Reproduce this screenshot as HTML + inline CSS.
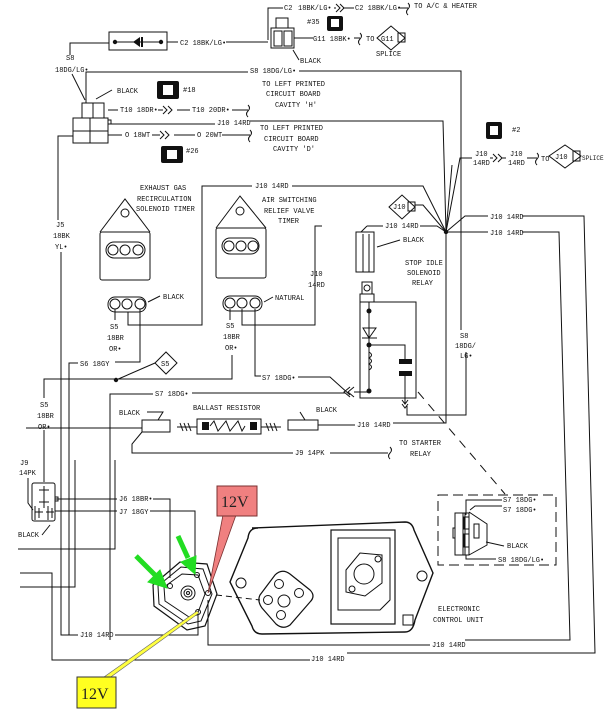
<!DOCTYPE html>
<html><head><meta charset="utf-8"><style>
html,body{margin:0;padding:0;background:#fff;}
svg{display:block;position:absolute;left:0;top:0;}
text{font-family:"Liberation Mono",monospace;font-size:7px;fill:#111;}
</style></head><body>
<svg width="604" height="711" viewBox="0 0 604 711" xmlns="http://www.w3.org/2000/svg">
<g stroke="#111" stroke-width="1" fill="none">
<rect x="109" y="32" width="58" height="18"/>
<path d="M70 55 V43 H109"/>
<line x1="114" y1="42" x2="162" y2="42"/>
<line x1="167" y1="42" x2="178" y2="42"/><line x1="226" y1="42" x2="268" y2="42"/>
<rect x="271" y="28" width="23" height="20"/><rect x="276" y="18" width="12" height="10"/>
<rect x="274" y="31" width="8" height="15"/><rect x="284" y="31" width="8" height="15"/>
<path d="M268 40 V8 H283"/><line x1="334" y1="8" x2="336" y2="8"/><line x1="343" y1="8" x2="354" y2="8"/><line x1="398" y1="8" x2="408" y2="8"/>
<path d="M336 4 l4 4 l-4 4 M340 4 l4 4 l-4 4"/>
<path d="M408 3 q3 3 0 6 q-3 3 0 6"/>
<line x1="294" y1="38" x2="313" y2="38"/><line x1="354" y1="38" x2="360" y2="38"/>
<path d="M360 33 q3 3 0 6 q-3 3 0 6"/>
<path d="M377 38 L391 26 L405 38 L391 50 Z"/><rect x="398" y="33" width="7" height="9"/>
<path d="M293 50 L299 60"/>
<path d="M86 103 V72 H248"/><path d="M299 71 H461 V330"/><path d="M466 352 V415 H407 V406"/>
<path d="M402 400 L405 404 L408 400 M402 404 L405 408 L408 404"/>
<line x1="72" y1="74" x2="85" y2="100"/>
<rect x="73" y="118" width="35" height="25"/><rect x="82" y="103" width="22" height="15"/>
<line x1="93" y1="103" x2="93" y2="118"/>
<line x1="90" y1="118" x2="90" y2="143"/><line x1="73" y1="131" x2="108" y2="131"/>
<rect x="108" y="120" width="3" height="4"/>
<line x1="96" y1="99" x2="112" y2="90"/>
<line x1="108" y1="110" x2="118" y2="110"/><line x1="158" y1="110" x2="163" y2="110"/><line x1="177" y1="110" x2="190" y2="110"/><line x1="232" y1="110" x2="248" y2="110"/>
<path d="M163 106 l4 4 l-4 4 M168 106 l4 4 l-4 4 M248 105 q3 3 0 6 q-3 3 0 6"/>
<line x1="108" y1="135" x2="122" y2="135"/><line x1="152" y1="135" x2="160" y2="135"/><line x1="174" y1="135" x2="195" y2="135"/><line x1="222" y1="135" x2="250" y2="135"/>
<path d="M160 131 l4 4 l-4 4 M165 131 l4 4 l-4 4 M250 130 q3 3 0 6 q-3 3 0 6"/>
<path d="M111 124 H215"/><path d="M250 121 H443 L446 232"/>
<path d="M73 136 H58 V220"/><path d="M61 252 V635 H78"/>
<path d="M100 232 L125 199 L150 232"/><rect x="100" y="232" width="50" height="48" rx="2"/>
<rect x="106" y="242" width="39" height="16" rx="8"/>
<circle cx="113" cy="250" r="5"/><circle cx="125" cy="250" r="5"/><circle cx="138" cy="250" r="5"/>
<circle cx="125" cy="213" r="4"/>
<path d="M216 228 L240 196 L266 228"/><rect x="216" y="228" width="50" height="50" rx="2"/>
<rect x="222" y="238" width="37" height="16" rx="8"/>
<circle cx="229" cy="246" r="5"/><circle cx="241" cy="246" r="5"/><circle cx="253" cy="246" r="5"/>
<circle cx="240" cy="211" r="4"/>
<path d="M128 312 V325 H202 V186 H252"/><path d="M292 186 H423 L446 232"/>
<rect x="108" y="297" width="38" height="15" rx="7"/>
<circle cx="115" cy="304" r="5"/><circle cx="127" cy="304" r="5"/><circle cx="140" cy="304" r="5"/>
<line x1="148" y1="302" x2="160" y2="296"/>
<path d="M115 309 V320"/><path d="M140 309 V362 H115"/>
<rect x="223" y="296" width="39" height="15" rx="7"/>
<circle cx="230" cy="303" r="5"/><circle cx="242" cy="303" r="5"/><circle cx="255" cy="303" r="5"/>
<line x1="264" y1="302" x2="273" y2="297"/>
<path d="M230 309 V320"/><path d="M242 309 V325 H315 V226 H322"/>
<path d="M255 309 V376 H261"/><path d="M298 377 H330 L350 395"/>
<path d="M232 355 V379 H44 V398"/><path d="M44 430 V482"/>
<path d="M116 380 L155 363"/><path d="M155 363 L166 352 L177 363 L166 374 Z"/>
<path d="M78 363 H69 V635"/>
<path d="M110 640 V394 H153"/><path d="M192 393 H345"/>
<path d="M350 387 L344 392 L350 397 M354 387 L348 392 L354 397"/>
<path d="M354 392 H369"/>
<line x1="367" y1="226" x2="383" y2="226"/><path d="M420 226 H437 L446 232"/>
<path d="M367 226 L361 232"/>
<path d="M415 205 H423 L446 232"/>
<path d="M389 207 L402 195 L415 207 L402 219 Z"/><rect x="408" y="202" width="7" height="9"/>
<rect x="356" y="232" width="18" height="40"/><line x1="363" y1="234" x2="363" y2="272"/><line x1="369" y1="234" x2="369" y2="272"/>
<line x1="377" y1="247" x2="400" y2="240"/>
<rect x="362" y="282" width="10" height="12"/><circle cx="367" cy="288" r="3"/>
<rect x="360" y="294" width="14" height="8"/>
<rect x="360" y="302" width="56" height="96"/>
<line x1="369" y1="302" x2="369" y2="391"/>
<path d="M363 328 H376 L369 338 Z"/><line x1="362" y1="338" x2="377" y2="338"/>
<path d="M369 345 H405 V360"/><path d="M405 376 V404"/>
<path d="M369 352 q5 3 0 6 q5 3 0 6 q5 3 0 6"/>
<path d="M446 232 L460 158 H472"/><path d="M446 232 L452 165"/><path d="M446 232 L465 216 H488 M522 216 H584 L595 653 H347"/>
<path d="M446 232 H488 M522 232 H559 L570 640 H465"/><path d="M446 232 V423 H393"/>
<line x1="490" y1="158" x2="493" y2="158"/><path d="M493 154 l4 4 l-4 4 M498 154 l4 4 l-4 4"/><line x1="502" y1="158" x2="506" y2="158"/>
<line x1="527" y1="158" x2="537" y2="158"/><path d="M537 153 q3 3 0 6 q-3 3 0 6"/>
<path d="M549 156 L565 145 L581 156 L565 168 Z"/><rect x="573" y="151" width="7" height="10"/>
<rect x="142" y="420" width="28" height="12"/><path d="M147 412 H163 L158 420"/>
<rect x="197" y="419" width="64" height="15"/>
<path d="M210 426 l4 -5 l4 10 l4 -5 l4 -5 l4 10 l4 -5 l4 -5 l4 10 l3 -5"/>
<path d="M177 427 H197 M261 427 H281"/>
<path d="M180 423 l3 8 M184 423 l3 8 M188 423 l3 8 M266 423 l3 8 M270 423 l3 8 M274 423 l3 8"/>
<rect x="288" y="420" width="30" height="10"/><line x1="300" y1="412" x2="305" y2="420"/>
<path d="M26 428 H142"/><path d="M318 425 H355"/>
<path d="M142 432 L132 444 V453 H293"/><path d="M330 453 H388"/><path d="M390 447 q3 3 0 6 q-3 3 0 6"/>
<path d="M418 392 L505 494" stroke-dasharray="9,7"/>
<rect x="32" y="483" width="23" height="38" rx="2"/>
<path d="M44 486 v12 M39 490 h10 M44 498 v10 M39 502 h10 M35 506 v14 M39 508 v10 M35 512 h8 M48 506 v14 M52 508 v10 M46 512 h8"/>
<rect x="55" y="497" width="3" height="4"/>
<path d="M55 499 H117"/><path d="M153 499 H170 V578"/>
<path d="M55 511 H117"/><path d="M150 511 H195 V572"/>
<path d="M28 478 V503 L33 510"/><path d="M42 535 L50 525"/>
<path d="M18 549 H115 V460"/>
<path d="M20 573 H52 V660 H310"/>
<path d="M20 587 H75 V460"/>
<path d="M115 635 H198 V614"/>
<path d="M208 600 V645 H430"/>
<path d="M153 585 L180 562 L207 564 L217 594 L205 626 L187 630 L154 606 Z" stroke-width="1.2"/>
<path d="M158 586 L181 567 L203 569 L212 594 L201 621 L188 624 L159 604 Z"/>
<path d="M164 587 L182 574 L198 575 L205 594 L197 615 L189 617 L165 601 Z"/>
<circle cx="188" cy="593" r="7"/><circle cx="188" cy="593" r="4"/><circle cx="188" cy="593" r="1.5"/>
<circle cx="170" cy="586" r="2.5"/><circle cx="197" cy="575" r="2.5"/><circle cx="208" cy="593" r="2.5"/><circle cx="198" cy="612" r="2.5"/>
<line x1="216" y1="595" x2="260" y2="600" stroke-dasharray="6,4"/>
<path d="M252 528 L405 522 Q412 522 414 530 L433 573 L415 620 Q413 632 405 632 L262 634 Q254 634 252 626 L230 582 L248 538 Q249 528 258 528 Z" stroke-width="1.4"/>
<circle cx="241" cy="583" r="5"/><circle cx="422" cy="576" r="5"/>
<path d="M260 595 L275 575 Q282 568 290 574 L310 590 Q316 596 310 602 L290 625 Q283 630 276 624 L262 608 Q257 601 260 595 Z" stroke-width="1.2"/>
<circle cx="279" cy="584" r="4.5"/><circle cx="299" cy="593" r="4.5"/><circle cx="268" cy="600" r="4.5"/><circle cx="284" cy="601" r="6"/><circle cx="281" cy="615" r="4.5"/>
<rect x="331" y="530" width="64" height="94" stroke-width="1.2"/><path d="M338 538 H390 V600 L380 610 H338 Z"/>
<path d="M346 570 L360 553 L382 555 L382 583 L365 596 L346 592 Z"/><circle cx="364" cy="574" r="10"/>
<circle cx="378" cy="559" r="3"/><circle cx="352" cy="589" r="3"/>
<rect x="403" y="615" width="10" height="10"/>
<rect x="438" y="495" width="118" height="70" stroke-dasharray="10,5"/>
<rect x="455" y="513" width="10" height="42"/><rect x="453" y="528" width="2" height="10"/>
<rect x="463" y="513" width="6" height="42"/>
<rect x="464" y="517" width="5" height="12"/><rect x="464" y="534" width="5" height="13"/>
<path d="M469 512 L487 524 V545 L469 555"/><rect x="474" y="524" width="5" height="14"/>
<path d="M466 515 V500 H502 M470 510 L475 506 H502 M466 555 V559 H496"/>
<path d="M486 542 L504 546"/>
</g>
<g fill="#111">
<rect x="157" y="81" width="22" height="18" rx="2"/><rect x="327" y="16" width="16" height="15" rx="2"/>
<rect x="161" y="146" width="22" height="17" rx="2"/><rect x="486" y="122" width="16" height="17" rx="2"/>
<circle cx="446" cy="232" r="2.2"/><circle cx="116" cy="380" r="2.2"/>
<circle cx="369" cy="311" r="2.5"/><circle cx="369" cy="345" r="2.5"/><circle cx="369" cy="391" r="2.5"/>
<rect x="399" y="359" width="13" height="5"/><rect x="399" y="371" width="13" height="5"/>
<circle cx="115" cy="42" r="2.2"/><circle cx="161" cy="42" r="2.2"/><path d="M140 37 V47 L133 42Z"/><rect x="141" y="37" width="2" height="10"/>
<rect x="202" y="422" width="7" height="8"/><rect x="250" y="422" width="7" height="8"/>
</g>
<g fill="#fff"><rect x="163" y="85" width="10" height="10"/><rect x="331" y="19" width="8" height="8"/><rect x="167" y="150" width="10" height="9"/><rect x="490" y="126" width="8" height="9"/></g>
<text x="284" y="10">C2</text><text x="298" y="10">18BK/LG•</text><text x="355" y="10">C2 18BK/LG•</text><text x="414" y="8">TO A/C &amp; HEATER</text>
<text x="180" y="45">C2 18BK/LG•</text><text x="307" y="24">#35</text><text x="313" y="41">G11 18BK•</text>
<text x="366" y="41">TO</text><text x="381" y="41">G11</text><text x="376" y="56">SPLICE</text><text x="300" y="63">BLACK</text>
<text x="66" y="60">S8</text><text x="55" y="72">18DG/LG•</text><text x="250" y="73">S8 18DG/LG•</text>
<text x="117" y="93">BLACK</text><text x="183" y="92">#18</text>
<text x="120" y="112">T10 18DR•</text><text x="192" y="112">T10 20DR•</text>
<text x="262" y="86">TO LEFT PRINTED</text><text x="266" y="96">CIRCUIT BOARD</text><text x="275" y="107">CAVITY 'H'</text>
<text x="217" y="125">J10 14RD</text>
<text x="125" y="137">O 18WT</text><text x="197" y="137">O 20WT</text>
<text x="260" y="130">TO LEFT PRINTED</text><text x="264" y="141">CIRCUIT BOARD</text><text x="273" y="151">CAVITY 'D'</text>
<text x="186" y="153">#26</text><text x="512" y="132">#2</text>
<text x="475" y="156">J10</text><text x="473" y="165">14RD</text><text x="510" y="156">J10</text><text x="508" y="165">14RD</text>
<text x="541" y="161">TO</text><text x="555" y="159">J10</text><text x="582" y="160" style="font-size:6px">SPLICE</text>
<text x="140" y="190">EXHAUST GAS</text><text x="137" y="201">RECIRCULATION</text><text x="136" y="211">SOLENOID TIMER</text>
<text x="255" y="188">J10 14RD</text>
<text x="262" y="202">AIR SWITCHING</text><text x="264" y="213">RELIEF VALVE</text><text x="278" y="223">TIMER</text>
<text x="393" y="209">J10</text><text x="385" y="228">J10 14RD</text><text x="403" y="242">BLACK</text>
<text x="490" y="219">J10 14RD</text><text x="490" y="235">J10 14RD</text>
<text x="405" y="265">STOP IDLE</text><text x="407" y="275">SOLENOID</text><text x="412" y="285">RELAY</text>
<text x="56" y="227">J5</text><text x="53" y="238">18BK</text><text x="55" y="249">YL•</text>
<text x="163" y="299">BLACK</text><text x="275" y="300">NATURAL</text>
<text x="310" y="276">J10</text><text x="308" y="287">14RD</text>
<text x="110" y="329">S5</text><text x="107" y="340">18BR</text><text x="109" y="351">OR•</text>
<text x="226" y="328">S5</text><text x="223" y="339">18BR</text><text x="225" y="350">OR•</text>
<text x="460" y="338">S8</text><text x="455" y="348">18DG/</text><text x="460" y="358">LG•</text>
<text x="80" y="366">S6 18GY</text><text x="161" y="366">S5</text><text x="262" y="380">S7 18DG•</text>
<text x="40" y="407">S5</text><text x="37" y="418">18BR</text><text x="38" y="429">OR•</text>
<text x="155" y="396">S7 18DG•</text><text x="193" y="410">BALLAST RESISTOR</text>
<text x="119" y="415">BLACK</text><text x="316" y="412">BLACK</text><text x="357" y="427">J10 14RD</text>
<text x="295" y="455">J9 14PK</text><text x="399" y="445">TO STARTER</text><text x="410" y="456">RELAY</text>
<text x="20" y="465">J9</text><text x="19" y="475">14PK</text>
<text x="119" y="501">J6 18BR•</text><text x="119" y="514">J7 18GY</text><text x="18" y="537">BLACK</text>
<text x="503" y="502">S7 18DG•</text><text x="503" y="512">S7 18DG•</text><text x="507" y="548">BLACK</text><text x="498" y="562">S8 18DG/LG•</text>
<text x="438" y="611">ELECTRONIC</text><text x="433" y="622">CONTROL UNIT</text>
<text x="80" y="637">J10 14RD</text><text x="432" y="647">J10 14RD</text><text x="311" y="661">J10 14RD</text>
</svg>
<svg width="604" height="711">
<polygon points="223,515 236,515 208,593" fill="#f08080" stroke="#7a3030" stroke-width="0.8"/>
<rect x="217" y="486" width="40" height="30" fill="#f08080" stroke="#7a3030" stroke-width="1"/>
<text x="221" y="507" style="font-family:'Liberation Serif',serif;font-size:16px;fill:#222">12V</text>
<polygon points="197,611 199,613 108,679 104,677" fill="#ffff40" stroke="#666" stroke-width="0.6"/>
<rect x="77" y="677" width="39" height="31" fill="#ffff20" stroke="#333" stroke-width="1"/>
<text x="81" y="699" style="font-family:'Liberation Serif',serif;font-size:16px;fill:#222">12V</text>
<g stroke="#22dd22" stroke-width="5" fill="#22dd22">
<line x1="136" y1="556" x2="155" y2="575"/><polygon points="167,588 148,582 160,570" stroke-width="1"/>
<line x1="178" y1="536" x2="188" y2="558"/><polygon points="195,574 181,562 196,556" stroke-width="1"/>
</g>
</svg>
</body></html>
